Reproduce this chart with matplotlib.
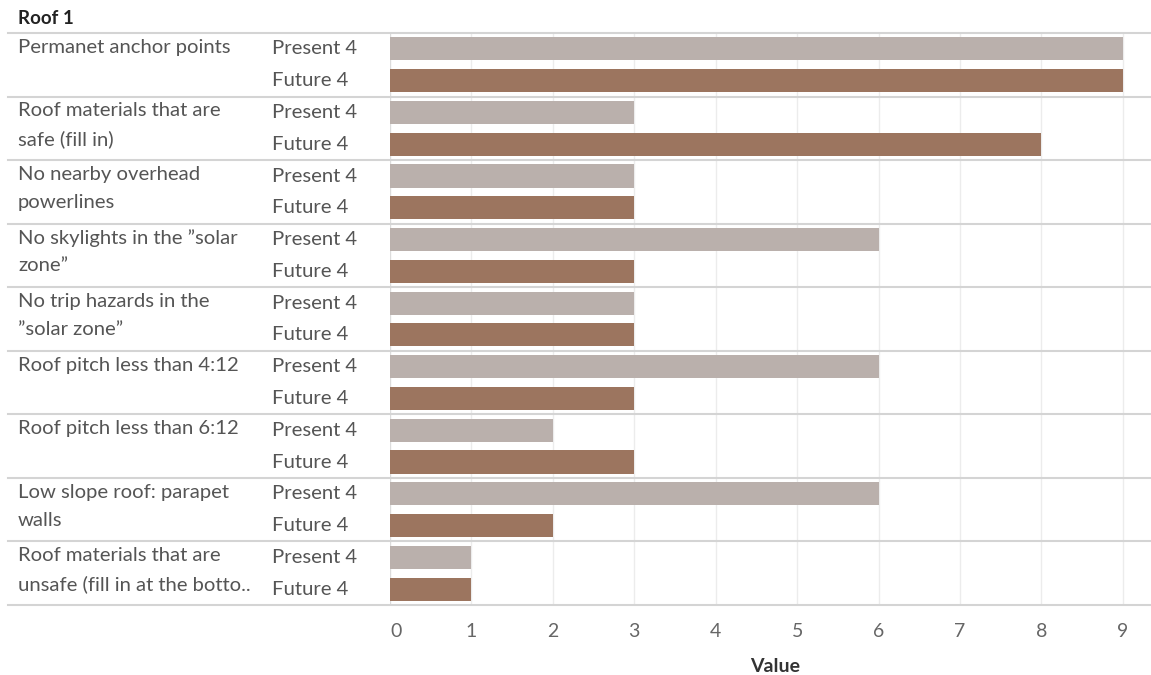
import numpy as np
import matplotlib
matplotlib.use("Agg")
from matplotlib import pyplot as plt
from matplotlib import transforms

plt.rcParams['font.family'] = ['Lato', 'DejaVu Sans']

categories = [
    ["Permanet anchor points"],
    ["Roof materials that are", "safe (fill in)"],
    ["No nearby overhead", "powerlines"],
    ["No skylights in the \u201dsolar", "zone\u201d"],
    ["No trip hazards in the", "\u201dsolar zone\u201d"],
    ["Roof pitch less than 4:12"],
    ["Roof pitch less than 6:12"],
    ["Low slope roof: parapet", "walls"],
    ["Roof materials that are", "unsafe (fill in at the botto.."],
]
series_labels = ["Present 4", "Future 4"]
present = [9, 3, 3, 6, 3, 6, 2, 6, 1]
future = [9, 8, 3, 3, 3, 3, 3, 2, 1]

W, H = 1151, 675
fig = plt.figure(figsize=(W / 100, H / 100), dpi=100)
ax = fig.add_axes([390 / W, 1 - 605 / H, 761 / W, 572 / H])

c_present = '#bab0ac'
c_future = '#9c755f'
txt = '#555555'
line_c = '#d4d4d4'

n = len(categories)
y_p = np.arange(n) * 2
y_f = y_p + 1
ax.barh(y_p, present, height=0.73, color=c_present, zorder=3)
ax.barh(y_f, future, height=0.73, color=c_future, zorder=3)

ax.set_xlim(0, 9.345)
ax.set_ylim(2 * n - 0.5, -0.5)
ax.set_xticks(range(10))
ax.set_yticks([])
ax.tick_params(axis='x', length=0, labelsize=14, labelcolor='#666666', pad=13)
ax.get_xticklabels()[0].set_ha('left')
for s in ax.spines.values():
    s.set_visible(False)
ax.axvline(0, color='#dcdcdc', lw=1, zorder=2)
for v in range(1, 10):
    ax.axvline(v, color='#ececec', lw=1, zorder=1)

# labels and separators use figure x, data y
tr = transforms.blended_transform_factory(fig.transFigure, ax.transData)
fs = 14.6
for i, lines in enumerate(categories):
    for k, line in enumerate(lines):
        fig.text(18 / W, y_p[i] + k * 0.88 - 0.05, line, transform=tr,
                 ha='left', va='center', fontsize=fs, color=txt)
    fig.text(272 / W, y_p[i], series_labels[0], transform=tr,
             ha='left', va='center', fontsize=fs, color=txt)
    fig.text(272 / W, y_f[i], series_labels[1], transform=tr,
             ha='left', va='center', fontsize=fs, color=txt)
for b in np.arange(n + 1) * 2 - 0.5:
    fig.add_artist(plt.Line2D([8 / W, 1], [b, b], transform=tr,
                              color=line_c, lw=1.5))

fig.text(18 / W, 1 - 18 / H, "Roof 1", ha='left', va='center',
         fontsize=13.5, fontweight='bold', color='#222222')
fig.text(775 / W, 1 - 667 / H, "Value", ha='center', va='center',
         fontsize=14, fontweight='bold', color='#333333')

fig.savefig('out.png', dpi=100)
